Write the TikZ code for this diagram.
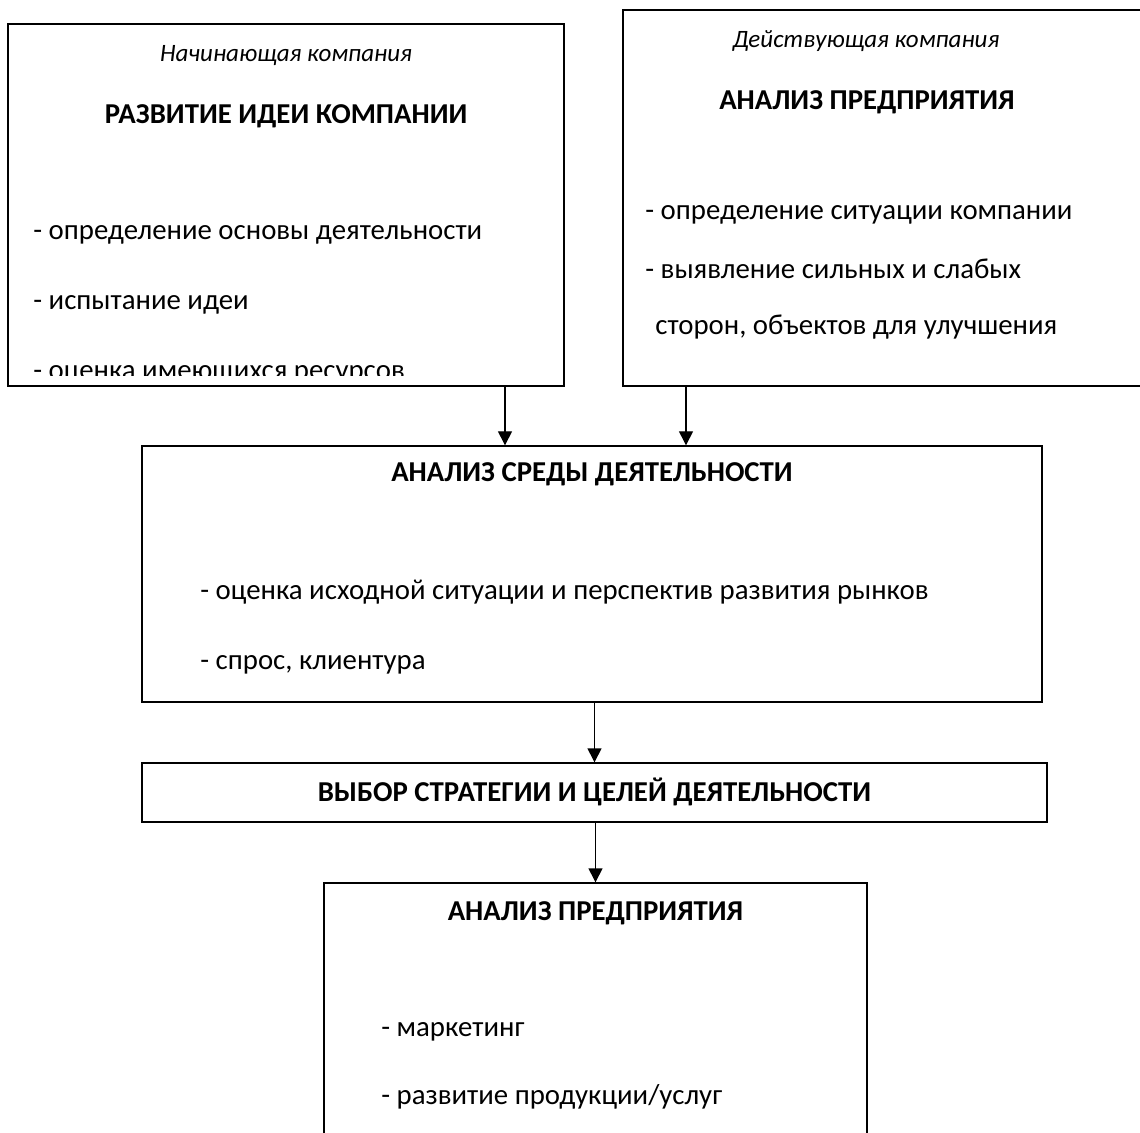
\documentclass[tikz,border=0pt]{standalone}
\usepackage{fontspec}
\setmainfont{Carlito}
\usepackage{tikz}
\usetikzlibrary{arrows.meta}

\tikzset{
	box/.style={draw, line width=0.7pt, inner sep=0pt, rectangle},
	head/.style={anchor=base, inner sep=0pt, font=\fontsize{14.4}{16}\selectfont\bfseries},
	note/.style={anchor=base, inner sep=0pt, font=\fontsize{12.5}{14}\selectfont\itshape},
	item/.style={anchor=base west, inner sep=0pt, font=\fontsize{14.4}{16}\selectfont},
	arr/.style={line width=0.7pt, -{Triangle[width=7pt,length=7pt]}}
}

\begin{document}
\begin{tikzpicture}[x=0.5pt, y=-0.5pt]
	\useasboundingbox (0,0) rectangle (1140,1133);
	\clip (0,0) rectangle (1140,1133);
	% boxes
	\node[box, minimum width=278pt, minimum height=181pt] (start) at (286,205) {};
	\node[box, minimum width=261pt, minimum height=188pt] (firm) at (884,198) {};
	\node[box, minimum width=450pt, minimum height=128pt] (env) at (592,574) {};
	\node[box, minimum width=452.5pt, minimum height=29.5pt] (goal) at (594.5,792.5) {};
	\node[box, minimum width=271.5pt, minimum height=133.5pt] (plan) at (595.5,1016.5) {};
	% startup
	\node[note] (startnote) at (286,62) {Начинающая компания};
	\node[head] (starthead) at (286,124) {РАЗВИТИЕ ИДЕИ КОМПАНИИ};
	\node[item] (starta) at (33,240) {- определение основы деятельности};
	\node[item] (startb) at (33,310) {- испытание идеи};
	\begin{scope}
		\clip (8,24) rectangle (564,376);
		\node[item] (startc) at (33,380) {- оценка имеющихся ресурсов};
	\end{scope}
	% existing firm
	\node[note] (firmnote) at (866,48) {Действующая компания};
	\node[head] (firmhead) at (867,110) {АНАЛИЗ ПРЕДПРИЯТИЯ};
	\node[item] (firma) at (645,220) {- определение ситуации компании};
	\node[item] (firmb) at (645,279) {- выявление сильных и слабых};
	\node[item] (firmc) at (655,335) {сторон, объектов для улучшения};
	% environment
	\node[head] (envhead) at (592,482) {АНАЛИЗ СРЕДЫ ДЕЯТЕЛЬНОСТИ};
	\node[item] (enva) at (200,599) {- оценка исходной ситуации и перспектив развития рынков};
	\node[item] (envb) at (200,669) {- спрос, клиентура};
	% strategy
	\node[head] (goalhead) at (594.5,801) {ВЫБОР СТРАТЕГИИ И ЦЕЛЕЙ ДЕЯТЕЛЬНОСТИ};
	% analysis
	\node[head] (planhead) at (595.5,920) {АНАЛИЗ ПРЕДПРИЯТИЯ};
	\node[item] (plana) at (381,1036) {- маркетинг};
	\node[item] (planb) at (381,1104) {- развитие продукции/услуг};
	% arrows
	\draw[arr] (start.south -| 505,0) -- (env.north -| 505,0);
	\draw[arr] (firm.south -| 686,0) -- (env.north -| 686,0);
	\draw[arr] (env.south -| goal) -- (goal.north);
	\draw[arr] (goal.south -| plan) -- (plan.north);
\end{tikzpicture}
\end{document}
